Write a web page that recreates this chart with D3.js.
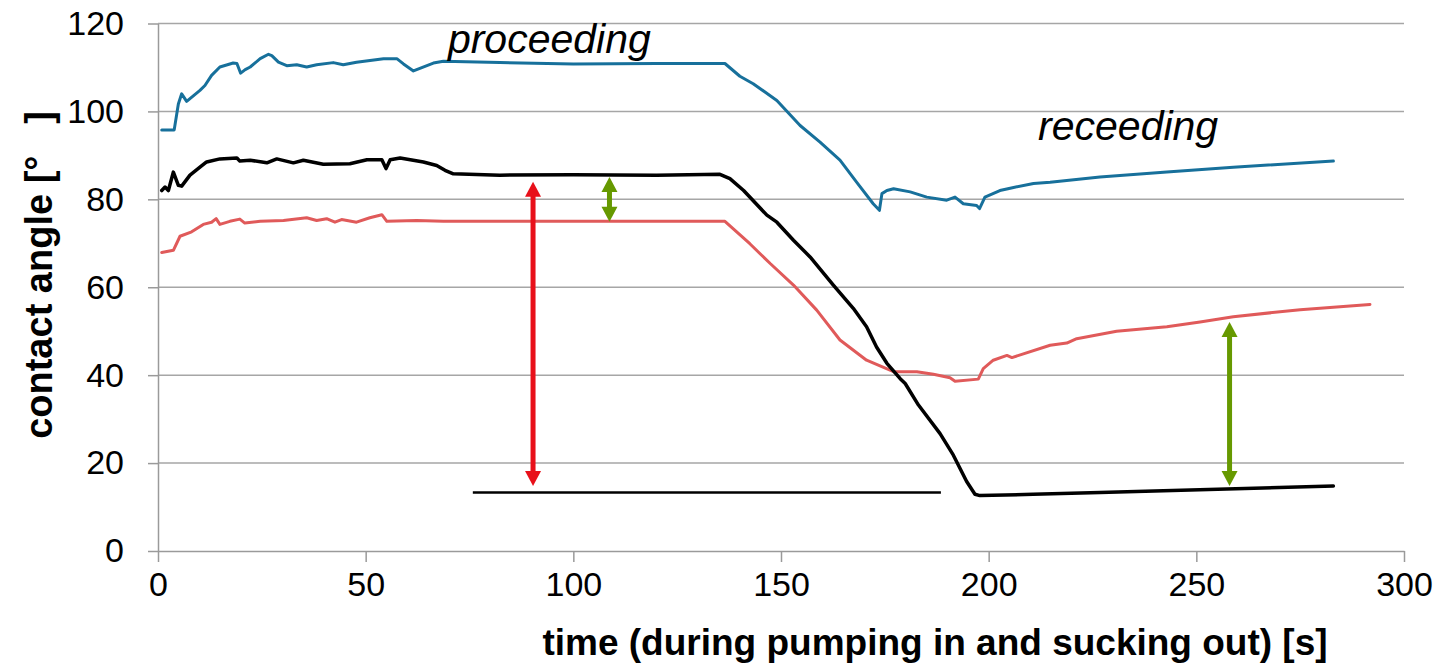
<!DOCTYPE html>
<html>
<head>
<meta charset="utf-8">
<script src="https://cdn.jsdelivr.net/npm/d3@7"></script>
<style>
  body { margin: 0; background: #fff; }
  svg text { font-family: "Liberation Sans", Arial, sans-serif; fill: #000; }
</style>
</head>
<body>
<svg id="chart"></svg>
<script>
// time values (s) and contact angles
const blueT = [0.9,3.9,4.9,5.7,6.9,10.1,11.3,12.9,14.9,18.1,19.0,19.9,21.0,22.2,24.6,26.6,27.4,29.0,31.0,33.4,35.8,38.2,42.2,44.6,47.8,54.3,57.5,59.1,61.5,66.3,68.7,82.3,100,120,136.5,140.1,143.3,149,154.6,159.4,164.2,168.2,172.2,173.7,174.3,175.5,177.1,181.1,185.1,189.9,191.9,193.9,197.1,197.8,199.1,202.7,206,210.8,214.8,226.8,242.9,258.9,283];
const blueV = [95.8,95.8,101.7,104.0,102.3,104.8,105.9,108.2,110.1,111.0,110.9,108.7,109.5,110.1,112.0,113.0,112.7,111.2,110.4,110.6,110.1,110.6,111.1,110.6,111.2,112.0,112.0,110.8,109.2,111.0,111.4,111.1,110.8,110.9,110.9,108.0,106.3,102.5,96.8,93.0,88.9,83.9,79.0,77.5,81.3,82.0,82.4,81.7,80.5,79.8,80.5,79.0,78.6,77.9,80.5,82.0,82.7,83.6,83.9,85.1,86.2,87.3,88.7];

const redT = [0.9,3.7,5.3,8.1,10.9,12.9,14.0,14.9,17.3,19.7,20.9,24.6,30.2,35.8,38.2,40.6,42.6,44.2,47.8,51.0,53.9,55.1,62.3,68.7,100,136.5,142.5,147.4,153.0,158.6,164.2,170.6,177.1,182.7,186.7,190.7,191.9,197.5,198.7,201.1,204.4,205.6,214.8,218.8,221.2,230.8,242.9,250.9,258.9,275,291.8];
const redV = [67.9,68.4,71.6,72.6,74.3,74.8,75.6,74.3,75.0,75.5,74.6,75.0,75.2,75.8,75.2,75.6,74.8,75.4,74.8,75.8,76.5,75.0,75.2,75.0,75.0,75.0,69.9,65.4,60.5,54.8,48.0,43.4,40.8,40.8,40.2,39.4,38.6,39.1,41.5,43.4,44.5,44.0,46.8,47.3,48.3,50.0,51.0,52.1,53.3,54.9,56.1];

const blackT = [0.9,1.7,2.5,3.7,4.9,5.7,7.7,10.1,11.7,14.9,19.0,19.7,22.2,26.2,28.6,32.6,35.0,39.8,46.2,50.3,53.9,54.9,55.9,58.3,63.9,67.1,69.1,71.1,82.3,100,120,135.3,137.7,141,146.6,149,153,157,162.6,167.4,170.6,173,175.5,178.7,179.9,183.1,188.3,191.5,194.7,196.7,197.9,210.7,226.8,283];
const blackV = [82.0,82.8,82.0,86.2,83.2,83.0,85.5,87.3,88.5,89.2,89.4,88.7,88.9,88.3,89.2,88.3,88.9,88.0,88.1,89.0,89.0,87.0,89.0,89.4,88.5,87.7,86.6,85.8,85.5,85.6,85.5,85.7,84.7,82.0,76.4,74.8,70.7,66.9,60.5,55.2,51.0,46.4,42.7,39.2,38.1,33.2,26.7,21.8,15.8,12.9,12.6,12.9,13.3,14.8];

// reference line and double arrows (time, from angle, to angle)
const baseLine = { t0: 75.8, t1: 188.5, v: 13.3 };
const arrows = [
  { t: 90.3, v0: 84.0, v1: 14.8, color: "#e8101a" },
  { t: 108.7, v0: 85.1, v1: 74.9, color: "#669900" },
  { t: 258.0, v0: 52.1, v1: 14.8, color: "#669900" }
];

const xTicks = [0, 50, 100, 150, 200, 250, 300];
const yTicks = [0, 20, 40, 60, 80, 100, 120];

const W = 1439, H = 667;
const plotL = 158, plotR = 1404, plotT = 23.5, plotB = 551;

const svg = d3.select("#chart").attr("width", W).attr("height", H);

const x = d3.scaleLinear().domain([0, 300]).range([plotL, plotR]);
const y = d3.scaleLinear().domain([0, 120]).range([plotB, plotT]);

// gridlines
svg.append("g")
  .selectAll("line")
  .data(yTicks.filter(d => d > 0))
  .enter()
  .append("line")
  .attr("x1", plotL).attr("x2", plotR)
  .attr("y1", d => y(d)).attr("y2", d => y(d))
  .attr("stroke", "#a6a6a6")
  .attr("stroke-width", 1.5);

// axes
const yAxis = svg.append("g")
  .attr("transform", `translate(${plotL},0)`)
  .call(d3.axisLeft(y).tickValues(yTicks).tickSize(10).tickSizeOuter(0).tickPadding(24));
const xAxis = svg.append("g")
  .attr("transform", `translate(0,${plotB})`)
  .call(d3.axisBottom(x).tickValues(xTicks).tickSize(11).tickSizeOuter(0).tickPadding(10));

[yAxis, xAxis].forEach(a => {
  a.selectAll("path, line").attr("stroke", "#9a9a9a").attr("stroke-width", 1.5);
  a.selectAll("text")
    .style("font-family", "'Liberation Sans', Arial, sans-serif")
    .style("font-size", "34px")
    .attr("fill", "#000");
});

// series
const line = d3.line().x(d => x(d[0])).y(d => y(d[1]));
const series = [
  { t: redT, v: redV, color: "#e05a5a", w: 3 },
  { t: blueT, v: blueV, color: "#17709b", w: 3 },
  { t: blackT, v: blackV, color: "#000", w: 3.5 }
];
series.forEach(s => {
  svg.append("path")
    .datum(s.t.map((t, i) => [t, s.v[i]]))
    .attr("d", line)
    .attr("fill", "none")
    .attr("stroke", s.color)
    .attr("stroke-width", s.w)
    .attr("stroke-linejoin", "round")
    .attr("stroke-linecap", "round");
});

// horizontal reference line
svg.append("line")
  .attr("x1", x(baseLine.t0)).attr("x2", x(baseLine.t1))
  .attr("y1", y(baseLine.v)).attr("y2", y(baseLine.v))
  .attr("stroke", "#000")
  .attr("stroke-width", 2.5);

// double headed arrows
const headL = 15, headW = 16, shaft = 5;
arrows.forEach(a => {
  const ax = x(a.t), yTop = y(a.v0), yBot = y(a.v1);
  svg.append("line")
    .attr("x1", ax).attr("x2", ax)
    .attr("y1", yTop + headL - 1).attr("y2", yBot - headL + 1)
    .attr("stroke", a.color)
    .attr("stroke-width", shaft);
  svg.append("path")
    .attr("d", `M${ax},${yTop} L${ax + headW / 2},${yTop + headL} L${ax - headW / 2},${yTop + headL} Z`)
    .attr("fill", a.color);
  svg.append("path")
    .attr("d", `M${ax},${yBot} L${ax + headW / 2},${yBot - headL} L${ax - headW / 2},${yBot - headL} Z`)
    .attr("fill", a.color);
});

// italic labels
svg.append("text")
  .attr("x", x(69.8)).attr("y", y(113.2))
  .style("font-size", "41px").style("font-style", "italic")
  .text("proceeding");
svg.append("text")
  .attr("x", x(211.9)).attr("y", y(93.4))
  .style("font-size", "41px").style("font-style", "italic")
  .text("receeding");

// axis titles
svg.append("text")
  .attr("x", 935).attr("y", 655)
  .attr("text-anchor", "middle")
  .style("font-size", "37px").style("font-weight", "bold")
  .text("time (during pumping in and sucking out) [s]");
svg.append("text")
  .attr("transform", "translate(52,275) rotate(-90)")
  .attr("text-anchor", "middle")
  .style("font-size", "38px").style("font-weight", "bold")
  .style("white-space", "pre")
  .text("contact angle [°   ]");
</script>
</body>
</html>
